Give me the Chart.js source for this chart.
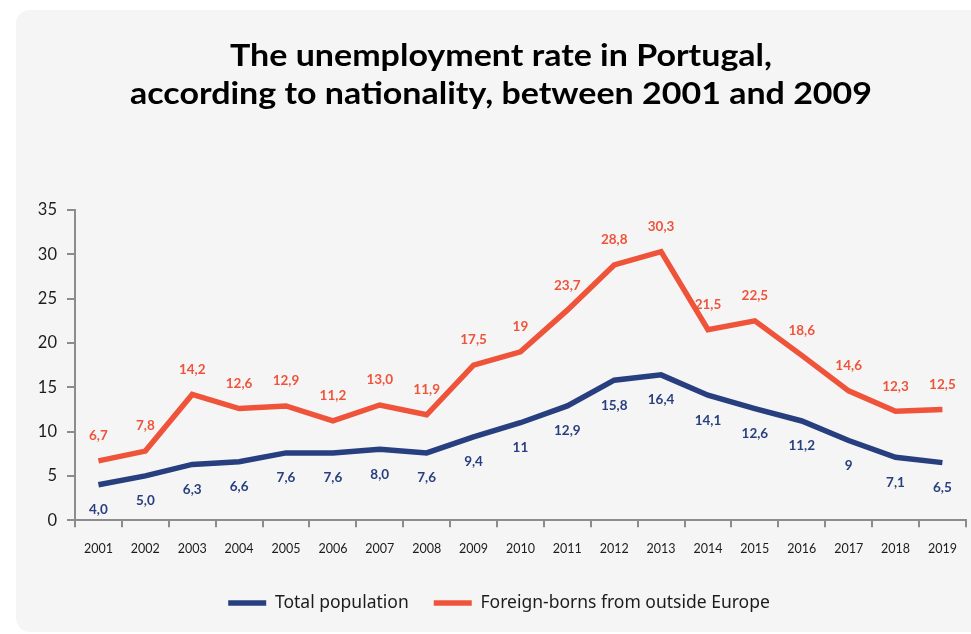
<!DOCTYPE html>
<html>
<head>
<meta charset="utf-8">
<script src="https://cdn.jsdelivr.net/npm/chart.js@4.4.1/dist/chart.umd.min.js"></script>
<style>
  html, body { margin: 0; padding: 0; background: #ffffff; }
  canvas { display: block; }
</style>
</head>
<body>
<canvas id="chart" width="971" height="634"></canvas>
<script>
// Unemployment rate (%) by year
const years = ['2001','2002','2003','2004','2005','2006','2007','2008','2009','2010',
               '2011','2012','2013','2014','2015','2016','2017','2018','2019'];
const totalPopulation = [4.0, 5.0, 6.3, 6.6, 7.6, 7.6, 8.0, 7.6, 9.4, 11,
                         12.9, 15.8, 16.4, 14.1, 12.6, 11.2, 9, 7.1, 6.5];
const foreignBorn = [6.7, 7.8, 14.2, 12.6, 12.9, 11.2, 13.0, 11.9, 17.5, 19,
                     23.7, 28.8, 30.3, 21.5, 22.5, 18.6, 14.6, 12.3, 12.5];
// Printed value labels, as written on the chart
const totalLabels = ['4,0','5,0','6,3','6,6','7,6','7,6','8,0','7,6','9,4','11',
                     '12,9','15,8','16,4','14,1','12,6','11,2','9','7,1','6,5'];
const foreignLabels = ['6,7','7,8','14,2','12,6','12,9','11,2','13,0','11,9','17,5','19',
                       '23,7','28,8','30,3','21,5','22,5','18,6','14,6','12,3','12,5'];
const yTicks = [0, 5, 10, 15, 20, 25, 30, 35];
const seriesNames = ['Total population', 'Foreign-borns from outside Europe'];
const titleLines = ['The unemployment rate in Portugal,',
                    'according to nationality, between 2001 and 2009'];

const BLUE = '#283f7f';
const RED = '#ef543b';
const AXIS = '#8c8c8c';
const INK = '#1c1c1c';
const BODY_FONT = 'Lato, "Noto Sans", sans-serif';
const LEGEND_FONT = '"Noto Sans", Lato, sans-serif';

// Light rounded card behind the whole chart
const cardBackground = {
  id: 'cardBackground',
  beforeDraw(chart) {
    const ctx = chart.ctx;
    ctx.save();
    ctx.fillStyle = '#ffffff';
    ctx.fillRect(0, 0, chart.width, chart.height);
    ctx.fillStyle = '#f5f5f5';
    ctx.beginPath();
    ctx.roundRect(16, 10, chart.width, chart.height - 12, 14);
    ctx.fill();
    ctx.restore();
  }
};

// Centre the legend row on the card rather than on the canvas
const legendShift = {
  id: 'legendShift',
  afterLayout(chart) {
    chart.legend.left += 15;
    chart.legend.right += 15;
  }
};

// Two-line condensed bold heading, centred above the plot
const heading = {
  id: 'heading',
  afterDraw(chart) {
    const ctx = chart.ctx;
    ctx.save();
    ctx.font = 'bold 30.5px ' + BODY_FONT;
    ctx.fillStyle = '#000000';
    ctx.textBaseline = 'alphabetic';
    ctx.textAlign = 'center';
    const squeeze = 742 / ctx.measureText(titleLines[1]).width;
    const cx = 501;
    [66, 104].forEach((baseline, i) => {
      ctx.save();
      ctx.translate(cx, baseline);
      ctx.scale(squeeze, 1);
      ctx.fillText(titleLines[i], 0, 0);
      ctx.restore();
    });
    ctx.restore();
  }
};

// Value labels above (positive offset) or below (negative offset) each point
const valueLabels = {
  id: 'valueLabels',
  afterDatasetsDraw(chart) {
    const ctx = chart.ctx;
    ctx.save();
    ctx.font = 'bold 13.5px ' + BODY_FONT;
    ctx.textAlign = 'center';
    ctx.textBaseline = 'middle';
    chart.data.datasets.forEach((ds, i) => {
      const meta = chart.getDatasetMeta(i);
      ctx.fillStyle = ds.borderColor;
      meta.data.forEach((pt, j) => {
        ctx.fillText(ds.valueLabels[j], pt.x, pt.y - ds.labelOffset);
      });
    });
    ctx.restore();
  }
};

new Chart(document.getElementById('chart'), {
  type: 'line',
  data: {
    labels: years,
    datasets: [
      {
        label: seriesNames[0],
        data: totalPopulation,
        valueLabels: totalLabels,
        labelOffset: -25,
        borderColor: BLUE,
        backgroundColor: BLUE,
        borderWidth: 5.5,
        pointRadius: 0,
        tension: 0
      },
      {
        label: seriesNames[1],
        data: foreignBorn,
        valueLabels: foreignLabels,
        labelOffset: 25,
        borderColor: RED,
        backgroundColor: RED,
        borderWidth: 5.5,
        pointRadius: 0,
        tension: 0
      }
    ]
  },
  options: {
    responsive: false,
    animation: false,
    layout: { padding: { left: 0, right: 3, top: 210, bottom: 12.25 } },
    plugins: {
      title: { display: false },
      legend: {
        position: 'bottom',
        labels: {
          usePointStyle: true,
          pointStyle: 'line',
          pointStyleWidth: 38,
          padding: 25,
          color: INK,
          font: { family: LEGEND_FONT, size: 17.5 }
        }
      },
      tooltip: { enabled: false }
    },
    scales: {
      x: {
        offset: true,
        grid: { offset: true, drawOnChartArea: false, drawTicks: true, tickLength: 7, color: AXIS, lineWidth: 2 },
        border: { color: AXIS, width: 2 },
        ticks: { color: INK, padding: 14, maxRotation: 0, autoSkip: false, font: { family: BODY_FONT, size: 12.5 } },
        afterFit(scale) { scale.height = 49; }
      },
      y: {
        min: 0,
        max: 35,
        afterBuildTicks(scale) { scale.ticks = yTicks.map(v => ({ value: v })); },
        grid: { drawOnChartArea: false, drawTicks: true, tickLength: 8, color: AXIS, lineWidth: 2 },
        border: { color: AXIS, width: 2 },
        ticks: { color: INK, padding: 10, font: { family: BODY_FONT, size: 16.5 } },
        afterFit(scale) { scale.width = 75; }
      }
    }
  },
  plugins: [cardBackground, legendShift, heading, valueLabels]
});
</script>
</body>
</html>
